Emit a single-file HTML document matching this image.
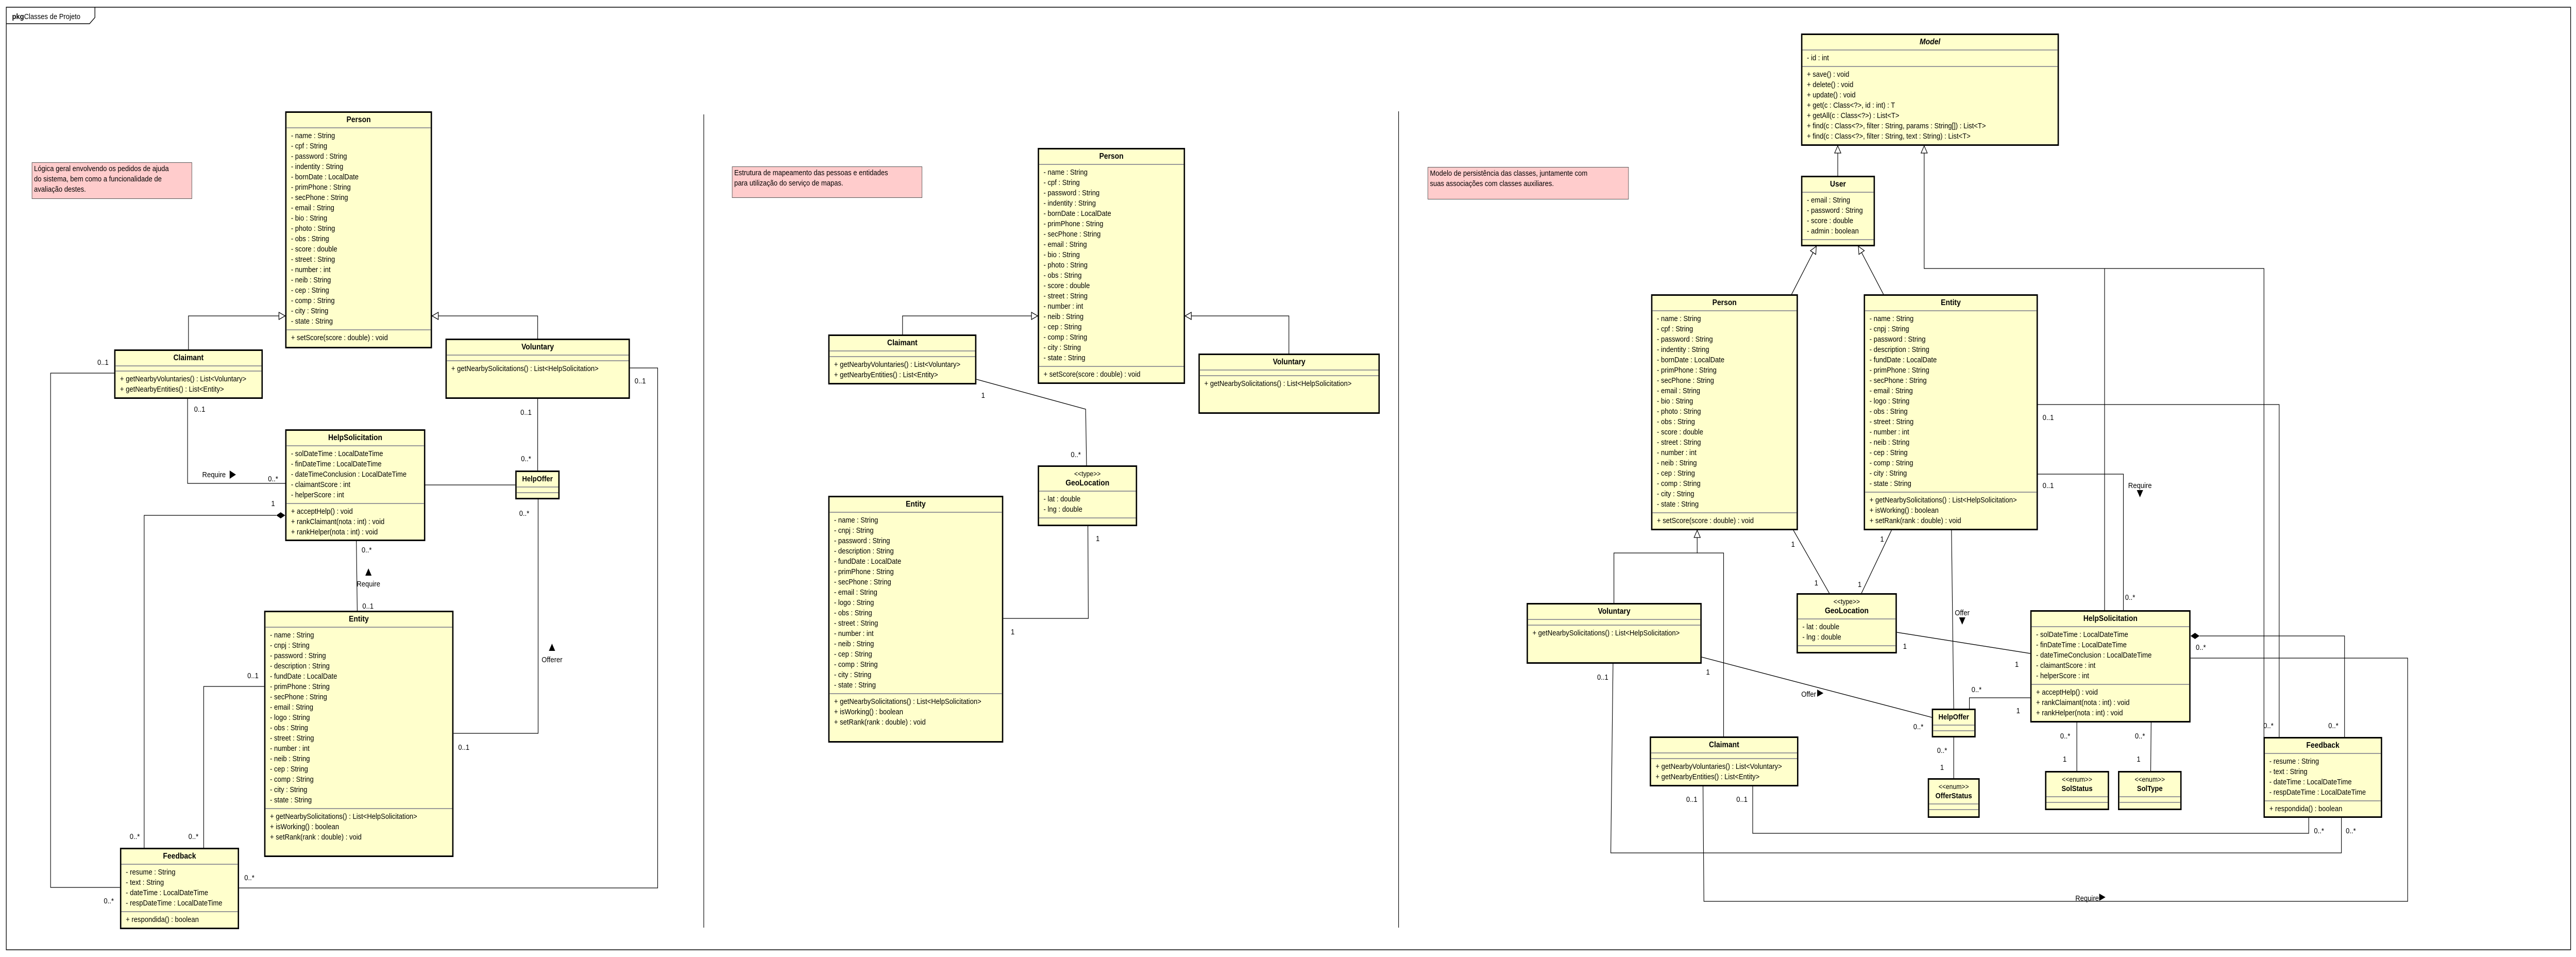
<!DOCTYPE html>
<html><head><meta charset="utf-8">
<style>
html,body{margin:0;padding:0;background:#fff;overflow:hidden}
#w{position:absolute;left:0;top:0;width:5754px;height:1857px;transform-origin:0 0;font-family:"Liberation Sans",Arial,sans-serif;background:#fff}
.c{position:absolute;background:#ffffcc;border:3px solid #000;box-sizing:border-box;font-size:15px;display:flex;flex-direction:column;color:#000;overflow:hidden}
.h{text-align:center;font-weight:bold;font-size:16px;line-height:20px;padding:4px 0 4px;border-bottom:2px solid #999;white-space:nowrap}
.st{font-weight:normal;font-size:14px;display:block;line-height:18px}
.a{padding:5px 0 5px 10px;line-height:20px;border-bottom:2px solid #999;white-space:nowrap}
.e{height:9px;border-bottom:2px solid #999}
.c>div:last-child{border-bottom:none;flex:1}
.n{position:absolute;background:#ffcccc;border:1px solid #555;box-sizing:border-box;font-size:15px;line-height:20px;padding:2px 4px;white-space:nowrap;overflow:hidden}
svg{position:absolute;left:0;top:0}
</style></head><body>
<div id="w">
<svg width="5754" height="1857" viewBox="0 0 5754 1857" xmlns="http://www.w3.org/2000/svg">
<defs>
<marker id="g" markerWidth="16" markerHeight="16" refX="15" refY="8" orient="auto" markerUnits="userSpaceOnUse"><path d="M1,1 L15,8 L1,15 Z" fill="#fff" stroke="#000" stroke-width="1.3"/></marker>
</defs>
<rect x="14" y="14" width="5728" height="1829" fill="none" stroke="#000" stroke-width="1.5"/>
<path d="M14,46 L200,46 L212,34 L212,14" fill="none" stroke="#000" stroke-width="1.5"/>
<text x="27" y="37" font-size="15"><tspan font-weight="bold">pkg</tspan>Classes de Projeto</text>
<line x1="1572" y1="222" x2="1572" y2="1800" stroke="#000" stroke-width="1.3"/>
<line x1="3124" y1="216" x2="3124" y2="1800" stroke="#000" stroke-width="1.3"/>
<g fill="none" stroke="#000" stroke-width="1.3">
<polyline points="421,678 421,613 637,613" marker-end="url(#g)"/>
<polyline points="1201,657 1201,613 965,613" marker-end="url(#g)"/>
<polyline points="255,724 113,724 113,1722 268,1722"/>
<polyline points="419,774 419,938 637,938"/>
<polyline points="1201,774 1201,913"/>
<polyline points="1407,714 1469,714 1469,1723 534,1723"/>
<polyline points="950,941 1151,941"/>
<polyline points="617,1000 322,1000 322,1645"/>
<polyline points="796,1050 798,1185"/>
<polyline points="590,1332 455,1332 455,1645"/>
<polyline points="1013,1423 1202,1423 1202,969"/>
<polyline points="2016,649 2016,613 2318,613" marker-end="url(#g)"/>
<polyline points="2879,686 2879,613 2647,613" marker-end="url(#g)"/>
<polyline points="2181,736 2425,794 2427,903"/>
<polyline points="2430,1021 2431,1200 2241,1200"/>
<polyline points="4105,341 4105,283" marker-end="url(#g)"/>
<polyline points="4701,1184 4701,521"/>
<polyline points="5057,1430 5057,521 4298,521 4298,283" marker-end="url(#g)"/>
<polyline points="4002,571 4057,478" marker-end="url(#g)"/>
<polyline points="4207,571 4151,478" marker-end="url(#g)"/>
<polyline points="3605,1170 3605,1073 3791,1073 3791,1029" marker-end="url(#g)"/>
<polyline points="3850,1429 3850,1073 3791,1073"/>
<polyline points="4006,1029 4086,1151"/>
<polyline points="4225,1029 4158,1151"/>
<polyline points="4237,1227 4535,1268"/>
<polyline points="4359,1029 4364,1375"/>
<polyline points="3801,1275 4315,1392"/>
<polyline points="4364,1431 4364,1510"/>
<polyline points="4399,1375 4399,1354 4535,1354"/>
<polyline points="3603,1288 3598,1655 5230,1655 5230,1587"/>
<polyline points="3915,1526 3915,1617 5157,1617 5157,1587"/>
<polyline points="3804,1526 3806,1749 5378,1749 5378,1277 4893,1277"/>
<polyline points="4913,1234 5237,1234 5237,1430"/>
<polyline points="4552,785 5091,785 5091,1430"/>
<polyline points="4552,920 4743,920 4743,1184"/>
<polyline points="4639,1402 4639,1496"/>
<polyline points="4805,1402 4804,1496"/>
</g>
<path d="M637,1000 L627,994 L617,1000 L627,1006 Z" fill="#000"/>
<path d="M4893,1234 L4903,1228 L4913,1234 L4903,1240 Z" fill="#000"/>
<g fill="#000">
<path d="M513,913 L527,921 L513,929 Z"/>
<path d="M816,1117 L823,1103 L830,1117 Z"/>
<path d="M1226,1263 L1233,1249 L1240,1263 Z"/>
<path d="M4376,1198 L4390,1198 L4383,1212 Z"/>
<path d="M4059,1338 L4073,1345 L4059,1352 Z"/>
<path d="M4689,1734 L4703,1741 L4689,1748 Z"/>
<path d="M4773,951 L4787,951 L4780,965 Z"/>
</g>
<g font-size="15" text-anchor="middle" fill="#000">
<text x="230" y="708">0..1</text><text x="243" y="1753">0..*</text><text x="446" y="799">0..1</text>
<text x="478" y="926">Require</text><text x="610" y="934">0..*</text>
<text x="1175" y="805">0..1</text><text x="1175" y="895">0..*</text><text x="1430" y="744">0..1</text>
<text x="557" y="1708">0..*</text><text x="610" y="982">1</text><text x="301" y="1628">0..*</text>
<text x="819" y="1072">0..*</text><text x="823" y="1138">Require</text><text x="822" y="1181">0..1</text>
<text x="565" y="1316">0..1</text><text x="432" y="1628">0..*</text><text x="1036" y="1455">0..1</text>
<text x="1171" y="1001">0..*</text><text x="1233" y="1285">Offerer</text>
<text x="2196" y="772">1</text><text x="2403" y="887">0..*</text><text x="2452" y="1050">1</text><text x="2262" y="1231">1</text>
<text x="4005" y="1061">1</text><text x="4057" y="1136">1</text><text x="4204" y="1051">1</text><text x="4154" y="1139">1</text>
<text x="4255" y="1259">1</text><text x="4505" y="1294">1</text><text x="4383" y="1194">Offer</text>
<text x="3815" y="1309">1</text><text x="4040" y="1352">Offer</text><text x="4285" y="1415">0..*</text>
<text x="4338" y="1461">0..*</text><text x="4338" y="1494">1</text><text x="4415" y="1343">0..*</text><text x="4508" y="1384">1</text>
<text x="3580" y="1319">0..1</text><text x="5251" y="1617">0..*</text><text x="3891" y="1556">0..1</text><text x="5180" y="1617">0..*</text>
<text x="3779" y="1556">0..1</text><text x="4662" y="1748">Require</text><text x="4916" y="1261">0..*</text>
<text x="5212" y="1413">0..*</text><text x="5067" y="1413">0..*</text><text x="4575" y="815">0..1</text><text x="4575" y="947">0..1</text>
<text x="4780" y="947">Require</text><text x="4758" y="1164">0..*</text>
<text x="4613" y="1433">0..*</text><text x="4612" y="1478">1</text><text x="4780" y="1433">0..*</text><text x="4777" y="1478">1</text>
</g>
</svg>

<div class="n" style="left:71px;top:315px;width:358px;height:71px">Lógica geral envolvendo os pedidos de ajuda<br>do sistema, bem como a funcionalidade de<br>avaliação destes.</div>
<div class="n" style="left:1635px;top:323px;width:425px;height:61px">Estrutura de mapeamento das pessoas e entidades<br>para utilização do serviço de mapas.</div>
<div class="n" style="left:3189px;top:324px;width:449px;height:63px">Modelo de persistência das classes, juntamente com<br>suas associações com classes auxiliares.</div>

<div class="c" style="left:637px;top:216px;width:328px;height:460px"><div class="h">Person</div><div class="a">- name : String<br>- cpf : String<br>- password : String<br>- indentity : String<br>- bornDate : LocalDate<br>- primPhone : String<br>- secPhone : String<br>- email : String<br>- bio : String<br>- photo : String<br>- obs : String<br>- score : double<br>- street : String<br>- number : int<br>- neib : String<br>- cep : String<br>- comp : String<br>- city : String<br>- state : String</div><div class="a">+ setScore(score : double) : void</div></div>
<div class="c" style="left:255px;top:678px;width:332px;height:96px"><div class="h">Claimant</div><div class="e"></div><div class="a">+ getNearbyVoluntaries() : List&lt;Voluntary&gt;<br>+ getNearbyEntities() : List&lt;Entity&gt;</div></div>
<div class="c" style="left:995px;top:657px;width:412px;height:117px"><div class="h">Voluntary</div><div class="e"></div><div class="a">+ getNearbySolicitations() : List&lt;HelpSolicitation&gt;</div></div>
<div class="c" style="left:637px;top:833px;width:313px;height:217px"><div class="h">HelpSolicitation</div><div class="a">- solDateTime : LocalDateTime<br>- finDateTime : LocalDateTime<br>- dateTimeConclusion : LocalDateTime<br>- claimantScore : int<br>- helperScore : int</div><div class="a">+ acceptHelp() : void<br>+ rankClaimant(nota : int) : void<br>+ rankHelper(nota : int) : void</div></div>
<div class="c" style="left:1151px;top:913px;width:99px;height:56px"><div class="h" style="font-size:15px">HelpOffer</div><div class="e"></div><div class="e"></div></div>
<div class="c" style="left:590px;top:1185px;width:423px;height:478px"><div class="h">Entity</div><div class="a">- name : String<br>- cnpj : String<br>- password : String<br>- description : String<br>- fundDate : LocalDate<br>- primPhone : String<br>- secPhone : String<br>- email : String<br>- logo : String<br>- obs : String<br>- street : String<br>- number : int<br>- neib : String<br>- cep : String<br>- comp : String<br>- city : String<br>- state : String</div><div class="a">+ getNearbySolicitations() : List&lt;HelpSolicitation&gt;<br>+ isWorking() : boolean<br>+ setRank(rank : double) : void</div></div>
<div class="c" style="left:268px;top:1645px;width:266px;height:158px"><div class="h">Feedback</div><div class="a">- resume : String<br>- text : String<br>- dateTime : LocalDateTime<br>- respDateTime : LocalDateTime</div><div class="a">+ respondida() : boolean</div></div>

<div class="c" style="left:2318px;top:287px;width:329px;height:458px"><div class="h">Person</div><div class="a">- name : String<br>- cpf : String<br>- password : String<br>- indentity : String<br>- bornDate : LocalDate<br>- primPhone : String<br>- secPhone : String<br>- email : String<br>- bio : String<br>- photo : String<br>- obs : String<br>- score : double<br>- street : String<br>- number : int<br>- neib : String<br>- cep : String<br>- comp : String<br>- city : String<br>- state : String</div><div class="a">+ setScore(score : double) : void</div></div>
<div class="c" style="left:1850px;top:649px;width:331px;height:97px"><div class="h">Claimant</div><div class="e"></div><div class="a">+ getNearbyVoluntaries() : List&lt;Voluntary&gt;<br>+ getNearbyEntities() : List&lt;Entity&gt;</div></div>
<div class="c" style="left:2677px;top:686px;width:405px;height:117px"><div class="h">Voluntary</div><div class="e"></div><div class="a">+ getNearbySolicitations() : List&lt;HelpSolicitation&gt;</div></div>
<div class="c" style="left:2318px;top:903px;width:222px;height:118px"><div class="h"><span class="st">&lt;&lt;type&gt;&gt;</span>GeoLocation</div><div class="a">- lat : double<br>- lng : double</div><div class="e"></div></div>
<div class="c" style="left:1850px;top:962px;width:391px;height:479px"><div class="h">Entity</div><div class="a">- name : String<br>- cnpj : String<br>- password : String<br>- description : String<br>- fundDate : LocalDate<br>- primPhone : String<br>- secPhone : String<br>- email : String<br>- logo : String<br>- obs : String<br>- street : String<br>- number : int<br>- neib : String<br>- cep : String<br>- comp : String<br>- city : String<br>- state : String</div><div class="a">+ getNearbySolicitations() : List&lt;HelpSolicitation&gt;<br>+ isWorking() : boolean<br>+ setRank(rank : double) : void</div></div>

<div class="c" style="left:4023px;top:65px;width:576px;height:218px"><div class="h" style="font-style:italic">Model</div><div class="a">- id : int</div><div class="a">+ save() : void<br>+ delete() : void<br>+ update() : void<br>+ get(c : Class&lt;?&gt;, id : int) : T<br>+ getAll(c : Class&lt;?&gt;) : List&lt;T&gt;<br>+ find(c : Class&lt;?&gt;, filter : String, params : String[]) : List&lt;T&gt;<br>+ find(c : Class&lt;?&gt;, filter : String, text : String) : List&lt;T&gt;</div></div>
<div class="c" style="left:4023px;top:341px;width:165px;height:137px"><div class="h">User</div><div class="a">- email : String<br>- password : String<br>- score : double<br>- admin : boolean</div><div class="e"></div></div>
<div class="c" style="left:3688px;top:571px;width:328px;height:458px"><div class="h">Person</div><div class="a">- name : String<br>- cpf : String<br>- password : String<br>- indentity : String<br>- bornDate : LocalDate<br>- primPhone : String<br>- secPhone : String<br>- email : String<br>- bio : String<br>- photo : String<br>- obs : String<br>- score : double<br>- street : String<br>- number : int<br>- neib : String<br>- cep : String<br>- comp : String<br>- city : String<br>- state : String</div><div class="a">+ setScore(score : double) : void</div></div>
<div class="c" style="left:4163px;top:571px;width:389px;height:458px"><div class="h">Entity</div><div class="a">- name : String<br>- cnpj : String<br>- password : String<br>- description : String<br>- fundDate : LocalDate<br>- primPhone : String<br>- secPhone : String<br>- email : String<br>- logo : String<br>- obs : String<br>- street : String<br>- number : int<br>- neib : String<br>- cep : String<br>- comp : String<br>- city : String<br>- state : String</div><div class="a">+ getNearbySolicitations() : List&lt;HelpSolicitation&gt;<br>+ isWorking() : boolean<br>+ setRank(rank : double) : void</div></div>
<div class="c" style="left:3410px;top:1170px;width:391px;height:118px"><div class="h">Voluntary</div><div class="e"></div><div class="a">+ getNearbySolicitations() : List&lt;HelpSolicitation&gt;</div></div>
<div class="c" style="left:3685px;top:1429px;width:332px;height:97px"><div class="h">Claimant</div><div class="e"></div><div class="a">+ getNearbyVoluntaries() : List&lt;Voluntary&gt;<br>+ getNearbyEntities() : List&lt;Entity&gt;</div></div>
<div class="c" style="left:4013px;top:1151px;width:224px;height:117px"><div class="h"><span class="st">&lt;&lt;type&gt;&gt;</span>GeoLocation</div><div class="a">- lat : double<br>- lng : double</div><div class="e"></div></div>
<div class="c" style="left:4315px;top:1375px;width:98px;height:56px"><div class="h" style="font-size:15px">HelpOffer</div><div class="e"></div><div class="e"></div></div>
<div class="c" style="left:4306px;top:1510px;width:116px;height:77px"><div class="h" style="font-size:15px"><span class="st">&lt;&lt;enum&gt;&gt;</span>OfferStatus</div><div class="e"></div><div class="e"></div></div>
<div class="c" style="left:4535px;top:1184px;width:358px;height:218px"><div class="h">HelpSolicitation</div><div class="a">- solDateTime : LocalDateTime<br>- finDateTime : LocalDateTime<br>- dateTimeConclusion : LocalDateTime<br>- claimantScore : int<br>- helperScore : int</div><div class="a">+ acceptHelp() : void<br>+ rankClaimant(nota : int) : void<br>+ rankHelper(nota : int) : void</div></div>
<div class="c" style="left:4568px;top:1496px;width:143px;height:76px"><div class="h" style="font-size:15px"><span class="st">&lt;&lt;enum&gt;&gt;</span>SolStatus</div><div class="e"></div><div class="e"></div></div>
<div class="c" style="left:4731px;top:1496px;width:142px;height:76px"><div class="h" style="font-size:15px"><span class="st">&lt;&lt;enum&gt;&gt;</span>SolType</div><div class="e"></div><div class="e"></div></div>
<div class="c" style="left:5056px;top:1430px;width:265px;height:157px"><div class="h">Feedback</div><div class="a">- resume : String<br>- text : String<br>- dateTime : LocalDateTime<br>- respDateTime : LocalDateTime</div><div class="a">+ respondida() : boolean</div></div>
</div>
<script>
(function(){
  var w=document.getElementById('w');
  var vw=window.innerWidth||document.documentElement.clientWidth||5754;
  var vh=window.innerHeight||document.documentElement.clientHeight||1857;
  var sx=vw/5754, sy=vh/1857;
  if(!(sx>0))sx=1; if(!(sy>0))sy=1;
  if(Math.abs(sx-1)>0.002||Math.abs(sy-1)>0.002){
    w.style.transform='scale('+sx+','+sy+')';
  }
  document.documentElement.style.width=vw+'px';
  document.documentElement.style.height=vh+'px';
  document.body.style.width=vw+'px';
  document.body.style.height=vh+'px';
})();
</script>
</body></html>
